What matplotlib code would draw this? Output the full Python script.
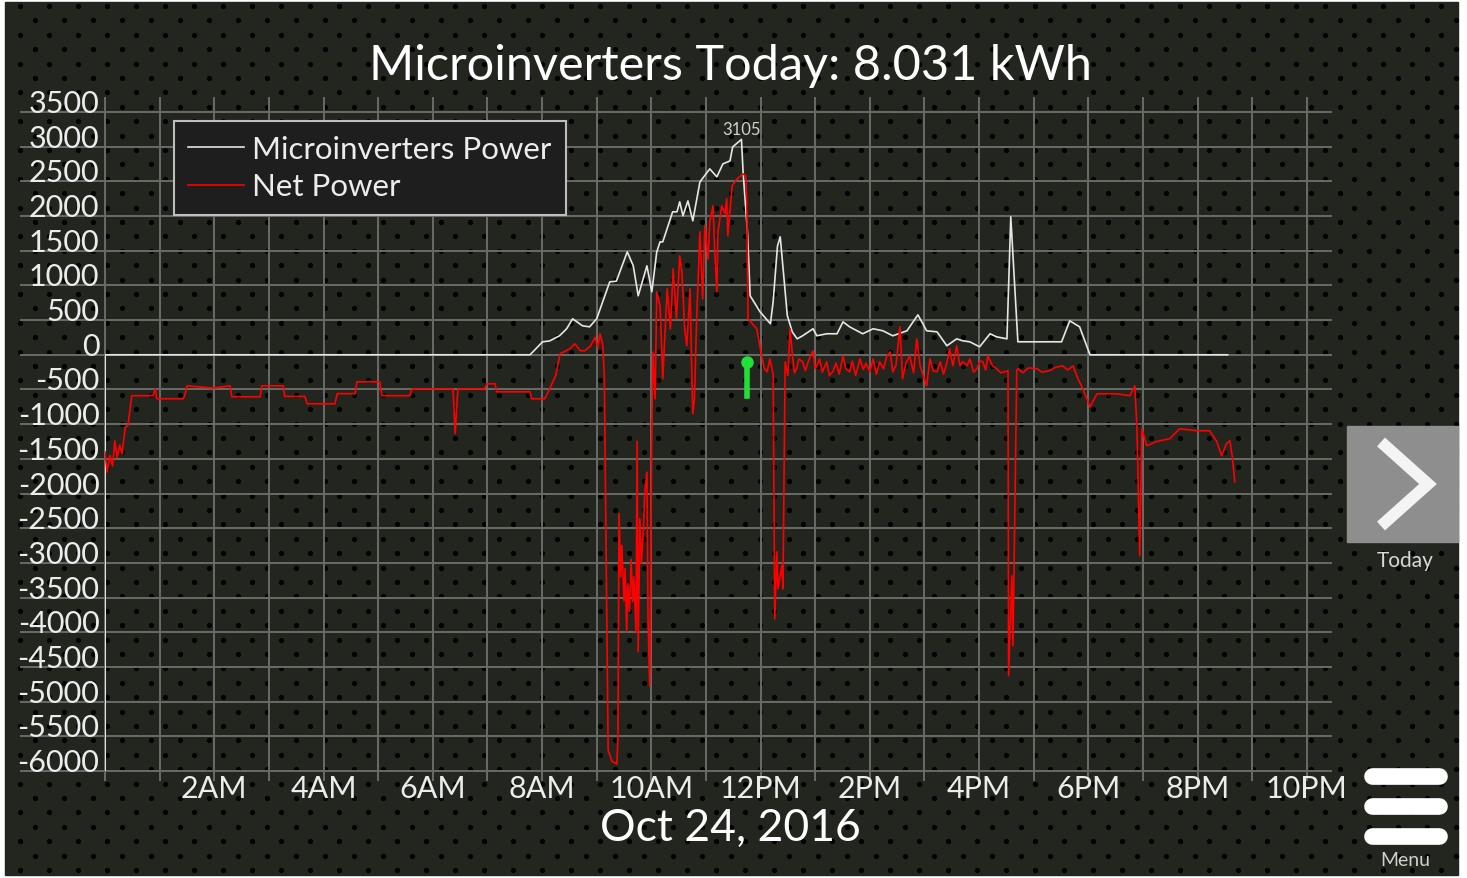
import numpy as np
import matplotlib.pyplot as plt
from matplotlib.patches import Rectangle

plt.rcParams['font.family'] = ['Lato', 'DejaVu Sans']
plt.rcParams['font.weight'] = 'normal'

# ---- data (hours after midnight, watts) ----
micro_hours = [0.00, 7.78, 8.01, 8.14, 8.32, 8.45, 8.56, 8.74, 8.87, 9.00, 9.24, 9.36,
               9.56, 9.67, 9.76, 9.92, 10.01, 10.10, 10.16, 10.21, 10.39, 10.47, 10.52,
               10.58, 10.67, 10.76, 10.89, 11.07, 11.20, 11.31, 11.44, 11.49, 11.65,
               11.68, 11.76, 11.81, 11.99, 12.18, 12.23, 12.31, 12.36, 12.49, 12.58,
               12.67, 12.77, 12.96, 13.03, 13.21, 13.40, 13.51, 13.63, 13.87, 14.06,
               14.24, 14.42, 14.68, 14.88, 15.04, 15.23, 15.41, 15.59, 15.70, 15.83,
               16.01, 16.20, 16.32, 16.51, 16.58, 16.71, 17.51, 17.66, 17.84, 18.03,
               20.55]
micro_watts = [0, 0, 187, 200, 274, 375, 519, 418, 403, 519, 1052, 1060,
               1484, 1282, 850, 1282, 908, 1484, 1628, 1628, 2061, 2061, 2205,
               2003, 2219, 1931, 2493, 2680, 2565, 2752, 2795, 2997, 3105,
               2637, 1772, 850, 620, 447, 764, 1570, 1700, 562, 331,
               230, 274, 375, 274, 303, 303, 475, 403, 303, 375,
               346, 274, 346, 576, 346, 331, 130, 230, 202, 187,
               115, 303, 259, 230, 1989, 187, 187, 490, 403, 0,
               0]

net_hours = [0.00, 0.02, 0.04, 0.09, 0.14, 0.18, 0.22, 0.27, 0.31, 0.37, 0.42, 0.49,
             0.88, 0.92, 0.95, 1.43, 1.46, 1.50, 1.98, 2.29, 2.32, 2.84, 2.87, 3.26,
             3.29, 3.66, 3.70, 4.21, 4.25, 4.58, 4.61, 5.03, 5.07, 5.58, 5.62, 6.37,
             6.41, 6.46, 6.95, 6.99, 7.14, 7.17, 7.78, 7.81, 8.05, 8.14, 8.25, 8.33,
             8.51, 8.60, 8.70, 8.78, 8.88, 8.97, 9.02, 9.06, 9.11, 9.14, 9.21, 9.28,
             9.37, 9.39, 9.41, 9.44, 9.46, 9.50, 9.52, 9.55, 9.57, 9.60, 9.63, 9.66,
             9.68, 9.72, 9.74, 9.76, 9.79, 9.82, 9.85, 9.88, 9.92, 9.94, 9.97, 10.01,
             10.03, 10.07, 10.10, 10.16, 10.21, 10.29, 10.35, 10.40, 10.46, 10.52,
             10.56, 10.61, 10.65, 10.71, 10.74, 10.76, 10.79, 10.83, 10.89, 10.94,
             10.98, 11.04, 11.07, 11.13, 11.16, 11.20, 11.22, 11.29, 11.35, 11.38,
             11.40, 11.48, 11.57, 11.68, 11.73, 11.75, 11.77, 11.93, 12.02, 12.07,
             12.12, 12.17, 12.23, 12.26, 12.30, 12.32, 12.39, 12.41, 12.45, 12.50,
             12.54, 12.59, 12.62, 12.66, 12.70, 12.77, 12.82, 12.88, 12.96, 13.00,
             13.03, 13.08, 13.13, 13.21, 13.26, 13.32, 13.38, 13.44, 13.51, 13.56,
             13.63, 13.68, 13.74, 13.82, 13.88, 13.93, 14.00, 14.06, 14.12, 14.18,
             14.25, 14.31, 14.37, 14.42, 14.48, 14.55, 14.60, 14.66, 14.73, 14.80,
             14.86, 14.92, 14.98, 15.04, 15.10, 15.16, 15.23, 15.29, 15.35, 15.41,
             15.46, 15.52, 15.59, 15.65, 15.70, 15.78, 15.83, 15.90, 15.96, 16.02,
             16.07, 16.12, 16.16, 16.24, 16.32, 16.40, 16.53, 16.54, 16.60, 16.62,
             16.69, 16.71, 16.80, 16.90, 17.06, 17.15, 17.29, 17.40, 17.53, 17.62,
             17.72, 17.81, 17.90, 18.03, 18.16, 18.52, 18.76, 18.85, 18.89, 18.94,
             18.98, 19.07, 19.25, 19.49, 19.67, 19.99, 20.22, 20.35, 20.44, 20.53,
             20.59, 20.64, 20.68]
net_watts = [-1400, -1540, -1690, -1450, -1600, -1240, -1480, -1300, -1430, -1050, -1020, -590,
             -590, -490, -634, -634, -590, -447, -480, -447, -605, -605, -447, -447,
             -600, -600, -706, -706, -560, -560, -390, -390, -590, -590, -490, -490,
             -1138, -490, -490, -418, -418, -533, -533, -634, -634, -490, -300, 14,
             86, 159, 60, 58, 120, 250, 100, 303, 150, -300, -5700, -5860,
             -5900, -5500, -2290, -3200, -2750, -3550, -3080, -3990, -3300, -3700, -2950, -3560,
             -3200, -4000, -1250, -4280, -2360, -3000, -2600, -2000, -1690, -3800, -4770, -1020,
             40, -634, 908, 706, -346, 951, 375, 1239, 519, 1427,
             1196, 375, 130, 951, -245, -850, -634, 519, 1772, 807,
             1859, 1383, 1917, 2147, 1527, 908, 1772, 2147, 2032, 2248,
             1715, 2435, 2536, 2608, 2579, 2147, 519, 375, -14, -200,
             -245, -58, -274, -3806, -2840, -3373, -3041, -3373, -101, -300,
             375, -58, -260, -200, -60, -100, -230, -80, 58, -200,
             -158, -60, -250, -100, -300, -245, -120, -280, -14, -200,
             -245, -90, -300, -58, -210, -120, -245, -60, -280, -100,
             -200, -20, 43, -245, -150, 403, -346, -120, -14, -260,
             230, -158, -300, -447, -58, -230, -245, -100, -280, -120,
             86, -158, 130, -158, -100, -158, -58, -250, -200, -90,
             -100, -220, -14, -150, -200, -260, -230, -4625, -3185, -4193,
             -230, -200, -260, -190, -200, -250, -230, -180, -160, -220,
             -160, -346, -490, -750, -562, -562, -590, -447, -1066, -2896,
             -1066, -1311, -1250, -1210, -1066, -1095, -1095, -1250, -1455, -1280,
             -1239, -1500, -1830]

peak_hour, peak_watts = 11.65, 3105
now_hour, now_low, now_high = 11.75, -591, -101

y_ticks = list(range(-6000, 3501, 500))
x_ticks = list(range(2, 23, 2))
x_labels = ['2AM', '4AM', '6AM', '8AM', '10AM', '12PM', '2PM', '4PM', '6PM', '8PM', '10PM']

W, H = 1467, 879
fig = plt.figure(figsize=(W / 100, H / 100), dpi=100, facecolor='white')

# ---- dotted dark panel behind everything ----
bg = fig.add_axes([0, 0, 1, 1])
bg.set_xlim(0, W)
bg.set_ylim(H, 0)
bg.axis('off')
bg.add_patch(Rectangle((5, 3), 1453, 873, color='#22261f', zorder=0))
dx, dy = [], []
for i, yy in enumerate(np.arange(7, 876, 14.4)):
    xs = np.arange(20 if i % 2 == 0 else 34.5, 1458, 29)
    dx.extend(xs)
    dy.extend([yy] * len(xs))
bg.scatter(dx, dy, s=14, color='#000000', linewidths=0, zorder=1)

# right-hand buttons
bg.add_patch(Rectangle((1347, 427), 111, 116, color='#8e8e8e', zorder=2))
bg.plot([1381, 1428, 1381], [443, 485, 527], color='#f4f4f4', lw=8.5,
        solid_joinstyle='miter', solid_capstyle='butt', zorder=3)
bg.text(1405, 561, 'Today', ha='center', va='center', fontsize=15, color='#d8d8d8')
for yy in (777, 807, 837):
    bg.plot([1372, 1439], [yy, yy], color='white', lw=12, solid_capstyle='round', zorder=3)
bg.text(1405, 861, 'Menu', ha='center', va='center', fontsize=14, color='#d0d0d0')

# ---- chart ----
ax = fig.add_axes([105 / W, 1 - 772 / H, 1227 / W, 659 / H])
ax.set_facecolor('none')
ax.set_xlim(0, 22.46)
ax.set_ylim(-6000, 3500)
for s in ax.spines.values():
    s.set_visible(False)

grid_kw = dict(color='#6a6a6a', lw=1.4, clip_on=False, zorder=1)
ax.hlines(y_ticks, -1.556, 22.46, **grid_kw)
ax.vlines(range(0, 23), -6144, 3716, **grid_kw)
ax.vlines(0, -6000, 0, color='#e8e8e8', lw=1.4, zorder=2)

ax.plot(micro_hours, micro_watts, color='#e6e6e6', lw=1.2, zorder=3,
        label='Microinverters Power')
ax.plot(net_hours, net_watts, color='#ff0000', lw=1.2, zorder=4, label='Net Power')

ax.annotate(str(peak_watts), (peak_hour, peak_watts), xytext=(0, 2),
            textcoords='offset points', ha='center', va='bottom',
            fontsize=12, color='#d0d0d0')
ax.plot([now_hour, now_hour], [now_low, now_high], color='#22e03a', lw=4, zorder=5)
ax.plot(now_hour, now_high, 'o', ms=8, color='#22e03a', zorder=5)

ax.set_yticks(y_ticks)
ax.set_yticklabels([str(v) for v in y_ticks])
for lbl in ax.get_yticklabels():
    lbl.set_verticalalignment('baseline')
ax.set_xticks(x_ticks)
ax.set_xticklabels(x_labels)
ax.tick_params(length=0, labelsize=22, labelcolor='#ececec')
ax.tick_params(axis='y', pad=4)
ax.tick_params(axis='x', pad=2)

leg = ax.legend(loc='upper left', bbox_to_anchor=(174 / W, 1 - 122 / H),
                bbox_transform=fig.transFigure, fancybox=False, framealpha=1,
                facecolor='#1e1e1e', edgecolor='#bdbdbd', fontsize=22.5,
                labelcolor='#ececec', handlelength=1.8, handletextpad=0.25,
                borderaxespad=0, borderpad=0.45, labelspacing=0.3)
leg.get_frame().set_linewidth(1.5)

fig.text(730 / W, 1 - 66 / H, 'Microinverters Today: 8.031 kWh', ha='center',
         va='center', fontsize=35, color='white')
fig.text(730 / W, 1 - 828 / H, 'Oct 24, 2016', ha='center', va='center',
         fontsize=32, color='white')

fig.savefig('out.png', dpi=100, facecolor=fig.get_facecolor())
